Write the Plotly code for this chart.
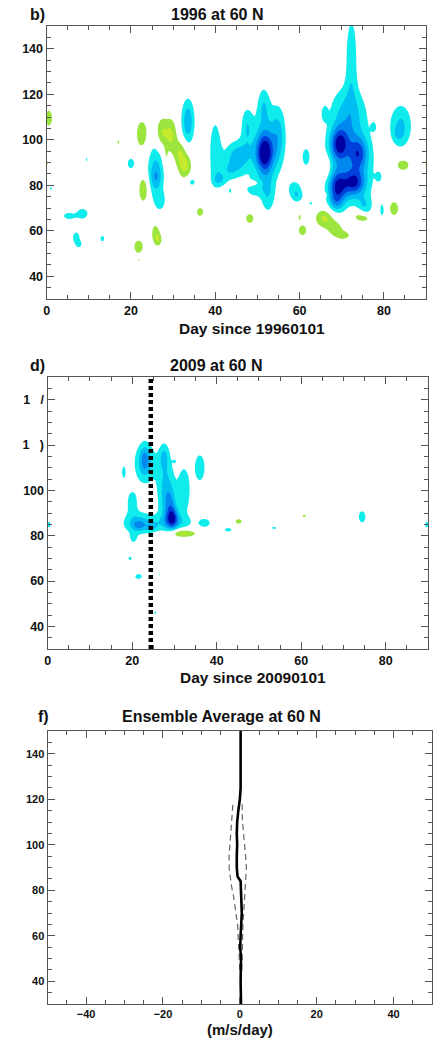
import numpy as np
import plotly.graph_objects as go

# ---------------- data ----------------
# Wind-tendency anomaly features, described as (day, altitude, half-widths, amplitude)
# Panel b: 1996 at 60 N
b_day = [72.3, 71.5, 69.4, 69.0, 73.0, 74.0, 72.0, 68.5, 75.5,
         51.7, 52.0, 51.5, 55.0, 52.5, 49.0, 40.0, 45.4, 47.5, 43.0,
         33.5, 25.9, 25.9, 27.0,
         20.0, 34.4, 41.0, 43.5, 58.8, 59.5, 61.5, 65.9, 77.6, 84.0, 83.5,
         78.8, 79.6, 62.7, 5.3, 8.5, 7.0, 7.7, 13.2, 9.4, 1.0,
         22.6, 27.3, 29.5, 31.6, 32.8, 23.0, 28.2, 0.5, 0.0, 17.0, 21.8,
         25.8, 26.5, 21.8, 36.4, 48.2, 48.6, 39.0, 60.7, 60.0, 65.9, 68.5,
         70.5, 66.0, 66.0, 73.8, 75.5, 79.2, 82.4, 84.5, 90.0]
b_alt = [136.0, 111.0, 98.0, 79.0, 81.0, 94.0, 88.0, 72.0, 71.0,
         94.0, 97.0, 115.0, 102.0, 76.0, 79.0, 95.0, 92.5, 106.0, 86.0,
         108.0, 86.0, 83.5, 73.0,
         89.6, 81.5, 82.0, 77.5, 78.5, 75.0, 92.5, 111.5, 105.7, 106.0, 102.8,
         83.7, 69.0, 72.0, 66.5, 67.5, 57.0, 54.0, 56.6, 91.3, 78.6,
         102.5, 103.0, 102.0, 94.5, 88.5, 78.0, 92.0, 109.5, 89.5, 99.0, 53.0,
         59.0, 56.0, 47.0, 68.3, 65.4, 80.8, 75.0, 60.2, 66.0, 65.5, 61.0,
         58.0, 88.0, 75.6, 66.5, 65.5, 96.2, 69.8, 89.0, 90.0]
b_sx = [1.0, 3.0, 1.5, 1.5, 1.8, 1.5, 4.0, 1.2, 1.2,
        1.4, 2.5, 1.0, 1.2, 1.2, 1.5, 1.1, 2.2, 1.0, 2.0,
        1.1, 1.45, 0.8, 0.9,
        0.9, 0.9, 1.2, 0.4, 1.3, 1.0, 0.8, 0.5, 0.4, 1.9, 0.7,
        0.5, 0.5, 0.5, 1.2, 1.1, 0.8, 0.5, 0.5, 0.3, 0.4,
        1.1, 1.0, 1.0, 1.0, 1.1, 0.8, 0.4, 0.8, 0.4, 0.35, 0.9,
        0.8, 0.6, 0.4, 0.8, 0.9, 1.4, 0.3, 0.9, 0.4, 1.6, 1.3,
        1.3, 1.0, 0.3, 1.3, 1.0, 0.5, 1.0, 1.5, 0.3]
b_sy = [14.0, 9.0, 5.0, 5.0, 4.0, 5.0, 12.0, 3.0, 3.0,
        6.0, 12.0, 6.0, 9.0, 6.0, 3.0, 11.0, 5.0, 6.0, 3.0,
        7.0, 9.0, 3.0, 3.0,
        2.5, 1.8, 2.0, 1.2, 3.0, 2.0, 3.5, 2.5, 1.5, 7.0, 2.0,
        1.5, 3.0, 1.0, 1.3, 2.0, 2.5, 1.2, 1.5, 1.2, 0.8,
        5.0, 5.0, 5.5, 4.0, 4.0, 4.0, 3.0, 3.5, 1.5, 1.2, 2.5,
        3.5, 2.0, 0.5, 2.0, 2.0, 1.0, 0.5, 2.2, 1.5, 3.0, 2.5,
        1.5, 3.5, 0.7, 2.0, 1.2, 1.2, 3.0, 2.5, 1.5]
b_amp = [1.8, 2.3, 4.0, 4.0, 3.5, 3.0, 2.2, 1.5, 1.5,
         4.5, 2.0, 1.5, 1.8, 1.6, 1.4, 1.7, 2.6, 1.7, 1.3,
         2.8, 2.3, 1.0, 1.3,
         1.4, 1.4, 1.4, 1.3, 1.5, 1.3, 1.5, 1.4, 1.3, 2.2, 1.0,
         1.3, 1.3, 1.2, 1.6, 1.7, 1.5, 1.3, 1.4, 1.3, 1.3,
         -1.8, -2.05, -2.1, -1.8, -2.4, -2.3, -1.3, -1.6, -1.3, -1.3, -1.8,
         -1.6, -1.5, -1.2, -1.5, -1.6, -1.4, -1.2, -1.6, -1.3, -2.3, -1.8,
         -1.6, -1.6, -1.2, -1.5, -1.4, -1.3, -1.6, -1.6, -1.3]

# Panel d: 2009 at 60 N
d_day = [23.0, 23.0, 18.0, 20.0, 21.5, 21.5, 24.5, 20.3,
         28.0, 27.5, 29.5, 29.0, 32.3, 36.0, 30.0, 30.0,
         37.2, 42.7, 53.6, 74.4, 0.3, 89.7,
         19.5, 21.5, 26.6, 25.4,
         32.0, 45.2, 60.7]
d_alt = [112.0, 114.0, 108.0, 95.0, 85.5, 84.5, 84.0, 79.0,
         100.0, 115.0, 88.0, 95.0, 100.0, 110.0, 112.8, 86.0,
         85.6, 82.6, 83.4, 88.3, 84.9, 84.9,
         70.0, 62.0, 62.8, 46.0,
         81.0, 86.3, 88.8]
d_sx = [1.8, 0.7, 0.5, 1.0, 2.6, 1.0, 1.0, 0.6,
        1.5, 0.8, 1.0, 0.9, 1.1, 1.0, 0.3, 3.5,
        1.1, 0.9, 0.7, 0.8, 0.4, 0.4,
        0.6, 0.9, 0.3, 0.4,
        2.2, 0.8, 0.5]
d_sy = [6.5, 4.0, 3.0, 4.0, 3.5, 1.5, 1.5, 1.8,
        11.0, 4.0, 3.5, 4.5, 8.0, 5.0, 0.5, 2.5,
        1.6, 0.9, 0.6, 2.5, 2.0, 2.0,
        1.0, 1.3, 0.8, 0.8,
        1.2, 1.1, 0.7]
d_amp = [2.4, 1.5, 1.4, 1.6, 2.4, 1.3, 1.5, 1.4,
         2.3, 1.6, 3.8, 1.5, 1.9, 1.8, 1.2, 1.5,
         1.5, 1.4, 1.35, 1.6, 1.4, 1.4,
         1.3, 1.4, 1.2, 1.3,
         -2.5, -1.5, -1.4]

# Onset day of the 2009 event
event_day = 24.4

# Panel f: ensemble-average profile and its spread
f_alt = [30, 40, 50, 55, 60, 65, 70, 75, 80, 84, 86, 90, 95, 100, 105, 110, 115, 120, 125, 130, 140, 150]
f_mean = [0.3, 0.2, 0.3, 0.1, 0.2, 0.4, 0.5, 0.4, 0.3, 0.2, -0.6, -0.8, -0.8, -0.7, -0.8, -0.7, -0.4, 0.0, 0.2, 0.2, 0.2, 0.2]
f_lo_alt = [45, 52, 58, 65, 72, 78, 82, 86, 90, 95, 100, 105, 110, 114, 118]
f_lo = [0.0, -0.3, -0.4, -0.6, -1.1, -1.7, -2.2, -2.5, -2.8, -2.8, -2.6, -2.5, -2.3, -2.1, -1.8]
f_hi_alt = [45, 52, 60, 65, 73, 80, 85, 90, 95, 100, 105, 110, 114, 118]
f_hi = [0.5, 0.6, 0.6, 0.8, 1.1, 1.4, 1.6, 1.7, 1.5, 1.2, 0.9, 0.7, 0.6, 0.6]

x_ticks_day = [0, 20, 40, 60, 80]
y_ticks = [40, 60, 80, 100, 120, 140]
y_text_d = ["40", "60", "80", "100", "1\u2007 )", "1\u2007 /"]
x_ticks_f = [-40, -20, 0, 20, 40]

# ---------------- fields ----------------
# grid extends past the axes so the fill has no seam at the frame
grid_day = np.arange(-3, 93.001, 0.5)
grid_alt = np.arange(26, 154.001, 0.5)
GX, GY = np.meshgrid(grid_day, grid_alt)


def build_field(day, alt, sx, sy, amp):
    z = np.zeros_like(GX)
    for d, a, wx, wy, A in zip(day, alt, sx, sy, amp):
        z += A * np.exp(-0.5 * ((GX - d) / wx) ** 2 - 0.5 * ((GY - a) / wy) ** 2)
    # stay above the lowest contour (white background band) and off the exact 0 level
    z = np.clip(z, -2.9, None) + 0.013
    return np.round(z, 3)


z_b = build_field(b_day, b_alt, b_sx, b_sy, b_amp)
z_d = build_field(d_day, d_alt, d_sx, d_sy, d_amp)

# Discrete fill colours for levels -3..5 (step 1); the band below -3 is the white background
band_colors = ["#FFFFFF", "#C8EA2C", "#9CE43E", "#FFFFFF", "#FFFFFF",
               "#10ECEC", "#00BDF2", "#0088EE", "#0040DA", "#0000A0"]
nb = len(band_colors) - 1
colorscale = []
for j, c in enumerate(band_colors):
    lo = max(0.0, (j - 0.5) / nb)
    hi = min(1.0, (j + 0.5) / nb)
    colorscale.append([lo, c])
    colorscale.append([hi, c])

contour_levels = dict(start=-3, end=5, size=1, coloring="fill", showlines=False)

fig = go.Figure()
fig.add_trace(go.Contour(x=grid_day, y=grid_alt, z=z_b, xaxis="x", yaxis="y",
                         autocontour=False, contours=contour_levels,
                         colorscale=colorscale, showscale=False,
                         line=dict(width=0), hoverinfo="skip"))
fig.add_trace(go.Contour(x=grid_day, y=grid_alt, z=z_d, xaxis="x2", yaxis="y2",
                         autocontour=False, contours=contour_levels,
                         colorscale=colorscale, showscale=False,
                         line=dict(width=0), hoverinfo="skip"))
fig.add_trace(go.Scatter(x=[event_day, event_day], y=[30, 150], xaxis="x2", yaxis="y2",
                         mode="lines", line=dict(color="black", width=4.5, dash="4px,3px"),
                         hoverinfo="skip", showlegend=False))

fig.add_trace(go.Scatter(x=f_lo, y=f_lo_alt, xaxis="x3", yaxis="y3", mode="lines",
                         line=dict(color="#666666", width=1.2, dash="6px,4px"),
                         showlegend=False, hoverinfo="skip"))
fig.add_trace(go.Scatter(x=f_hi, y=f_hi_alt, xaxis="x3", yaxis="y3", mode="lines",
                         line=dict(color="#666666", width=1.2, dash="6px,4px"),
                         showlegend=False, hoverinfo="skip"))
fig.add_trace(go.Scatter(x=f_mean, y=f_alt, xaxis="x3", yaxis="y3", mode="lines",
                         line=dict(color="black", width=2.6),
                         showlegend=False, hoverinfo="skip"))

W, H = 434, 1038
FONT = "Liberation Sans, Arial, sans-serif"


def px_x(p):
    return p / W


def px_y(p):
    return 1 - p / H


def axis(domain, rng, tickvals, anchor, size, ticktext=None, minor=5):
    a = dict(domain=domain, range=rng, tickvals=tickvals, anchor=anchor,
             ticks="inside", ticklen=7, tickwidth=1, tickcolor="#555555",
             showline=True, linecolor="#555555", linewidth=1.3, mirror="allticks",
             showgrid=False, zeroline=False,
             minor=dict(dtick=minor, ticks="inside", ticklen=4, tickcolor="#555555", tickwidth=1),
             tickfont=dict(family=FONT, size=size, color="#111111", weight="bold"))
    if ticktext is not None:
        a["ticktext"] = ticktext
    return a


fig.update_layout(
    width=W, height=H, margin=dict(l=0, r=0, t=0, b=0),
    paper_bgcolor="white", plot_bgcolor="white", showlegend=False,
    xaxis=axis([px_x(44), px_x(426)], [0, 90], x_ticks_day, "y", 12.5),
    yaxis=axis([px_y(299), px_y(26)], [30, 150], y_ticks, "x", 12.5),
    xaxis2=axis([px_x(45), px_x(428)], [0, 90], x_ticks_day, "y2", 12.5),
    yaxis2=axis([px_y(649), px_y(377)], [30, 150], y_ticks, "x2", 12.5, ticktext=y_text_d),
    xaxis3=axis([px_x(45), px_x(432)], [-50, 50], x_ticks_f, "y3", 11),
    yaxis3=axis([px_y(1004), px_y(731)], [30, 150], y_ticks, "x3", 11),
)

labels = [
    ("b)", 35, 14, 16), ("1996 at 60 N", 216, 14, 16), ("Day since 19960101", 251, 328, 15.5),
    ("d)", 35, 365, 16), ("2009 at 60 N", 215, 365, 16), ("Day since 20090101", 252, 677, 15.5),
    ("f)", 41, 716, 16), ("Ensemble Average at 60 N", 220, 716, 16), ("(m/s/day)", 239, 1029, 15),
]
for text, x, y, size in labels:
    fig.add_annotation(x=px_x(x), y=px_y(y), xref="paper", yref="paper",
                       text=text, showarrow=False, xanchor="center", yanchor="middle",
                       font=dict(family=FONT, size=size, color="#111111", weight="bold"))

fig.write_html("out.html")
